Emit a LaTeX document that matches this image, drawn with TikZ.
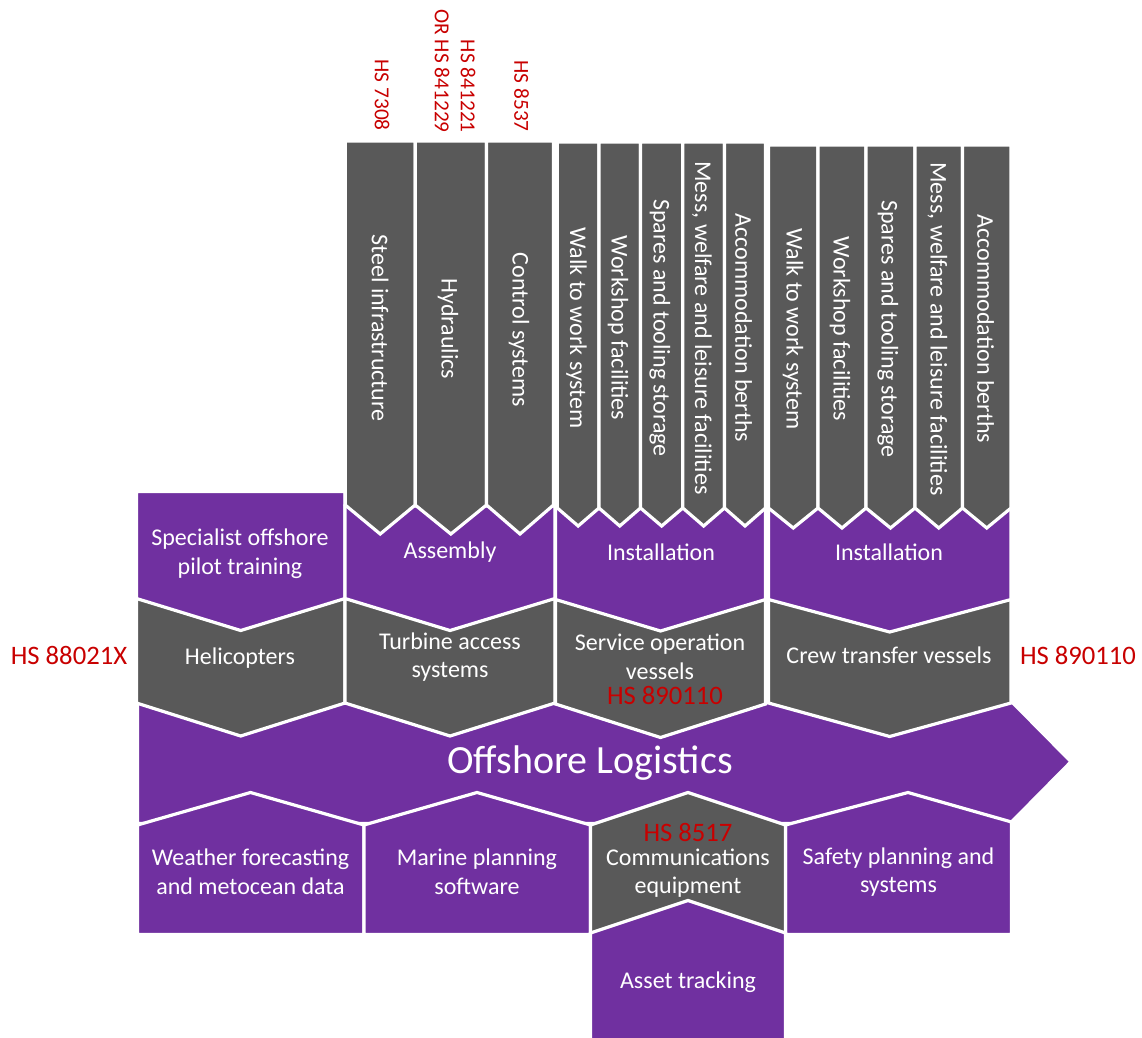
\documentclass[tikz,border=0pt]{standalone}
\usepackage{fontspec}
\setmainfont{Carlito}
\definecolor{lgpurple}{HTML}{7030A0}
\definecolor{lggrey}{HTML}{595959}
\definecolor{lgred}{HTML}{C80000}
\begin{document}
\begin{tikzpicture}[x=0.75pt,y=-0.75pt,
  panel/.style={line width=2.4pt, draw=white, line join=miter},
  purplepanel/.style={panel, fill=lgpurple},
  greypanel/.style={panel, fill=lggrey},
  wtext/.style={text=white, font=\fontsize{18}{21.5}\selectfont, align=center, inner sep=0pt},
  coltext/.style={wtext, rotate=-90},
  bigtext/.style={text=white, font=\fontsize{30}{36}\selectfont, inner sep=0pt},
  hscode/.style={text=lgred, font=\fontsize{20}{24}\selectfont, inner sep=0pt},
  hstop/.style={text=lgred, font=\fontsize{16}{19.5}\selectfont, rotate=-90, anchor=east, align=right, inner sep=0pt},
]
\useasboundingbox (0,0) rectangle (1142,1038);

% main logistics arrow
\path[purplepanel] (137.5,700) -- (1010,700) -- (1071,761.7) -- (1010,823.5) -- (137.5,823.5) -- cycle;

% lower row of support services (house-shaped tops)
\path[purplepanel] (137.5,825) -- (250.5,792.5) -- (364,825) -- (364,934.5) -- (137.5,934.5) -- cycle;
\path[purplepanel] (364,825) -- (477,792.5) -- (590.5,825) -- (590.5,934.5) -- (364,934.5) -- cycle;
\path[purplepanel] (785.5,825) -- (908,792.5) -- (1011.5,822) -- (1011.5,934.5) -- (785.5,934.5) -- cycle;
\path[greypanel] (590.5,825) -- (688,792.5) -- (785.5,825) -- (785.5,934.5) -- (590.5,934.5) -- cycle;
\path[purplepanel] (590.5,933) -- (688,900.5) -- (785.5,933) -- (785.5,1042) -- (590.5,1042) -- cycle;

% vessel / access row (grey chevrons)
\path[greypanel] (136.5,598.5) -- (345,598.5) -- (345,703) -- (240.7,736) -- (136.5,703) -- cycle;
\path[greypanel] (345,598.5) -- (555,598.5) -- (555,703) -- (450,736) -- (345,703) -- cycle;
\path[greypanel] (555.5,598.5) -- (765.5,598.5) -- (765.5,704) -- (660.5,737.5) -- (555.5,704) -- cycle;
\path[greypanel] (768.5,598.5) -- (1011,598.5) -- (1011,703) -- (889.7,736.5) -- (768.5,703) -- cycle;

% stage row (purple chevrons)
\path[purplepanel] (136.5,491.5) -- (345,491.5) -- (345,598.5) -- (240.7,630.5) -- (136.5,598.5) -- cycle;
\path[purplepanel] (345,506) -- (555,506) -- (555,598.5) -- (450,630.5) -- (345,598.5) -- cycle;
\path[purplepanel] (555.5,508) -- (765.5,508) -- (765.5,599.5) -- (660.5,631) -- (555.5,599.5) -- cycle;
\path[purplepanel] (768.5,508) -- (1011,508) -- (1011,599.5) -- (889.7,632) -- (768.5,599.5) -- cycle;

% component columns, assembly group
\foreach \l/\r in {345.2/415.2, 415.2/486.5, 486.5/553.5}
  \path[greypanel] (\l,141) -- (\r,141) -- (\r,505) -- ({(\l+\r)/2},534) -- (\l,505) -- cycle;
% component columns, first installation group
\foreach \l/\r in {557.3/599, 599/640.5, 640.5/682.8, 682.8/724.5, 724.5/765.5}
  \path[greypanel] (\l,142) -- (\r,142) -- (\r,508) -- ({(\l+\r)/2},526) -- (\l,508) -- cycle;
% component columns, second installation group
\foreach \l/\r in {768.5/818, 818/866, 866/915, 915/962.5, 962.5/1011}
  \path[greypanel] (\l,145) -- (\r,145) -- (\r,508) -- ({(\l+\r)/2},528) -- (\l,508) -- cycle;

% column labels
\node[coltext] (c1) at (380.2,328) {Steel infrastructure};
\node[coltext] (c2) at (448,329) {Hydraulics};
\node[coltext] (c3) at (519,330) {Control systems};
\node[coltext] (c4) at (576.5,328) {Walk to work system};
\node[coltext] (c5) at (618,328) {Workshop facilities};
\node[coltext] (c6) at (660,328) {Spares and tooling storage};
\node[coltext] (c7) at (702,328) {Mess, welfare and leisure facilities};
\node[coltext] (c8) at (743.5,328) {Accommodation berths};
\node[coltext] (c9) at (793,329) {Walk to work system};
\node[coltext] (c10) at (840,329) {Workshop facilities};
\node[coltext] (c11) at (888,329) {Spares and tooling storage};
\node[coltext] (c12) at (937.5,329) {Mess, welfare and leisure facilities};
\node[coltext] (c13) at (985.5,329) {Accommodation berths};

% HS codes above the columns
\node[hstop] (hs1) at (382,131) {HS 7308};
\node[hstop] (hs2) at (455,133) {HS 841221\\OR HS 841229};
\node[hstop] (hs3) at (521.5,132) {HS 8537};

% stage labels
\node[wtext] (pilot) at (240,554) {Specialist offshore\\pilot training};
\node[wtext] (assembly) at (450,552) {Assembly};
\node[wtext] (inst1) at (661,552) {Installation};
\node[wtext] (inst2) at (889,552) {Installation};

% vessel / access labels
\node[wtext] (heli) at (240,658) {Helicopters};
\node[wtext] (turbine) at (450,657) {Turbine access\\systems};
\node[wtext] (sov) at (660,657) {Service operation\\vessels};
\node[hscode] (sovhs) at (665,695) {HS 890110};
\node[wtext] (ctv) at (889,655) {Crew transfer vessels};
\node[hscode] (helihs) at (69,655) {HS 88021X};
\node[hscode] (ctvhs) at (1078,655) {HS 890110};

% arrow label
\node[bigtext] (logistics) at (590,763) {Offshore Logistics};

% support service labels
\node[wtext] (weather) at (250.5,872) {Weather forecasting\\and metocean data};
\node[wtext] (marine) at (477,872) {Marine planning\\software};
\node[hscode] (commshs) at (688,832) {HS 8517};
\node[wtext] (comms) at (688,873) {Communications\\equipment};
\node[wtext] (safety) at (898.5,872) {Safety planning and\\systems};
\node[wtext] (asset) at (688,982) {Asset tracking};
\end{tikzpicture}
\end{document}
